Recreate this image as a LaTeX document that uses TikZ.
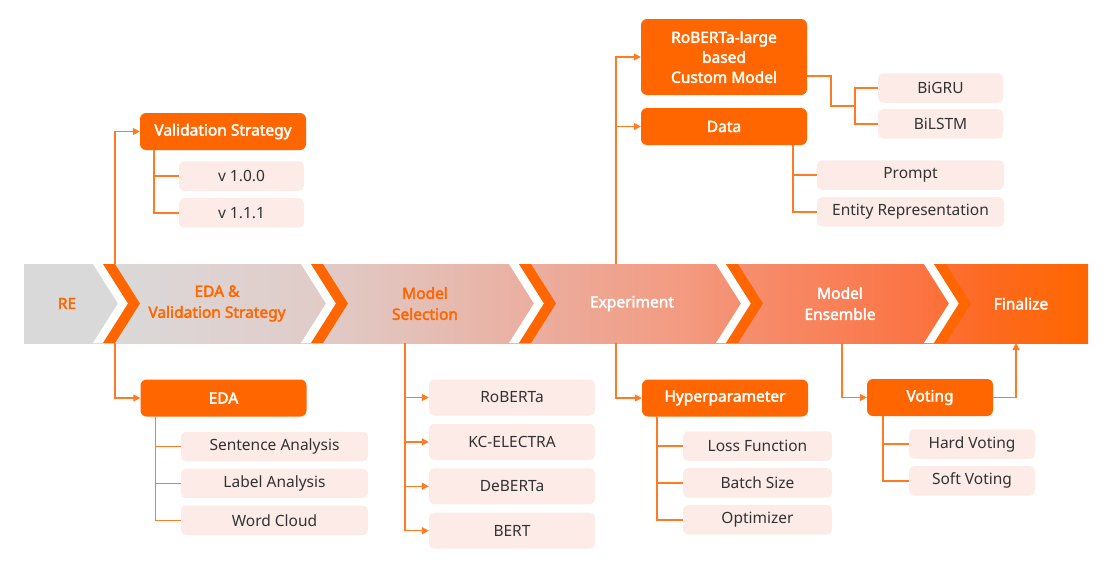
\documentclass[tikz,border=0pt]{standalone}
\usepackage{fontspec}
\setmainfont{Noto Sans}[AutoFakeBold=2.5]
\usetikzlibrary{positioning,arrows.meta}

\definecolor{MainOrange}{HTML}{FF6600}
\definecolor{LineOrange}{HTML}{FF7A22}
\definecolor{LeafFill}{HTML}{FCEBE6}
\definecolor{LeafText}{HTML}{333333}
\definecolor{BandA}{HTML}{D9D9D9}
\definecolor{BandB}{HTML}{DCD6D6}
\definecolor{BandC}{HTML}{E0CDCA}
\definecolor{BandD}{HTML}{E3C3BC}
\definecolor{BandE}{HTML}{E8B4A7}
\definecolor{BandF}{HTML}{ECAB9A}
\definecolor{BandG}{HTML}{F39A80}
\definecolor{BandH}{HTML}{F68A68}
\definecolor{BandI}{HTML}{FB7444}
\definecolor{BandJ}{HTML}{FD6A22}
\pgfdeclarehorizontalshading{bandshade}{100bp}{color(0bp)=(BandA); color(25bp)=(BandA); color(28.5bp)=(BandA);
  color(31bp)=(BandB); color(38bp)=(BandC); color(42bp)=(BandD); color(47bp)=(BandE); color(50bp)=(BandF);
  color(56bp)=(BandG); color(60bp)=(BandH); color(67bp)=(BandI); color(70bp)=(BandJ);
  color(75bp)=(MainOrange); color(100bp)=(MainOrange)}

\begin{document}
\begin{tikzpicture}[x=1pt,y=-1pt,node distance=7pt,
                    mainbox/.style={rectangle,fill=MainOrange,rounded corners=6pt,text=white,align=center,inner sep=0pt,
                                    minimum width=166pt,minimum height=37pt,font={\bfseries\fontsize{15.5}{20}\selectfont}},
                    leafbox/.style={rectangle,fill=LeafFill,rounded corners=5pt,text=LeafText,inner sep=0pt,
                                    minimum height=29.5pt,font={\fontsize{15.5}{18}\selectfont}},
                    modelbox/.style={leafbox,minimum width=166pt,minimum height=36pt},
                    stage/.style={align=center,font={\bfseries\fontsize{15.5}{21}\selectfont}},
                    branch/.style={draw=LineOrange,line width=1.5pt},
                    feed/.style={branch,-{Triangle[length=7pt,width=7pt]}}]
  \useasboundingbox (0,0) rectangle (1118,568);
  \shade[shading=bandshade] (24,264) rectangle (1088,343);
  \foreach \s in {103,311,519,726,934}{
    \fill[white] (\s-10,264) -- (\s,264) -- (\s+25,303.5) -- (\s,343) -- (\s-10,343) -- (\s+15,303.5) -- cycle;
    \fill[MainOrange] (\s,264) -- (\s+12,264) -- (\s+37,303.5) -- (\s+12,343) -- (\s,343) -- (\s+25,303.5) -- cycle;
  }
  \node[stage,text=MainOrange] (re) at (67,303.5) {RE};
  \node[stage,text=MainOrange] (eda-val) at (217,303.5) {EDA \&\\Validation Strategy};
  \node[stage,text=MainOrange] (selection) at (425,303.5) {Model\\Selection};
  \node[stage,text=white] (experiment) at (632,303.5) {Experiment};
  \node[stage,text=white] (ensemble) at (840,303.5) {Model\\Ensemble};
  \node[stage,text=white] (finalize) at (1021,303.5) {Finalize};
  \coordinate (re-top) at (115,264);
  \coordinate (re-bot) at (115,343);
  \coordinate (sel-bot) at (405,343);
  \coordinate (exp-top) at (616,264);
  \coordinate (exp-bot) at (616,343);
  \coordinate (ens-bot) at (842,343);
  \coordinate (fin-bot) at (1016,343);
  \node[mainbox] (valstrat) at (223,131.5) {Validation Strategy};
  \node[leafbox,minimum width=125pt] (v100) at (241.5,176) {v 1.0.0};
  \node[leafbox,minimum width=125pt] (v111) [below=of v100] {v 1.1.1};
  \node[mainbox] (eda) at (223.5,398) {EDA};
  \node[leafbox,minimum width=187pt] (sentence) at (274.5,446.5) {Sentence Analysis};
  \node[leafbox,minimum width=187pt] (label) [below=of sentence] {Label Analysis};
  \node[leafbox,minimum width=187pt] (wordcloud) [below=of label] {Word Cloud};
  \node[modelbox] (roberta) at (512,397.5) {RoBERTa};
  \node[modelbox] (kc-electra) [below=8pt of roberta] {KC-ELECTRA};
  \node[modelbox] (deberta) [below=8pt of kc-electra] {DeBERTa};
  \node[modelbox] (bert) [below=8pt of deberta] {BERT};
  \node[mainbox,minimum height=76pt] (custom) at (724,57) {RoBERTa-large\\based\\Custom Model};
  \node[mainbox] (data) at (724,126.5) {Data};
  \node[leafbox,minimum width=125pt] (bigru) at (940.5,88) {BiGRU};
  \node[leafbox,minimum width=125pt] (bilstm) [below=6pt of bigru] {BiLSTM};
  \node[leafbox,minimum width=187pt] (prompt) at (910.5,175) {Prompt};
  \node[leafbox,minimum width=187pt] (entity) [below=of prompt] {Entity Representation};
  \node[mainbox] (hyper) at (725,398) {Hyperparameter};
  \node[leafbox,minimum width=149pt] (loss) at (757.5,446) {Loss Function};
  \node[leafbox,minimum width=149pt] (batch) [below=of loss] {Batch Size};
  \node[leafbox,minimum width=149pt] (optimizer) [below=of batch] {Optimizer};
  \node[mainbox,minimum width=126pt] (voting) at (930,397.5) {Voting};
  \node[leafbox,minimum width=126pt] (hard) at (972,444) {Hard Voting};
  \node[leafbox,minimum width=126pt] (soft) [below=of hard] {Soft Voting};
  \draw[feed] (re-top) |- (valstrat.west);
  \draw[feed] (re-bot) |- (eda.west);
  \foreach \m in {roberta,kc-electra,deberta,bert}
    \draw[feed] (sel-bot) |- (\m.west);
  \draw[feed] (exp-top) |- (custom.west);
  \draw[feed] (exp-top) |- (data.west);
  \draw[feed] (exp-bot) |- (hyper.west);
  \draw[feed] (ens-bot) |- (voting.west);
  \draw[feed] (voting.east) -| (fin-bot);
  \draw[branch] ([xshift=14pt]valstrat.south west) |- (v100.west);
  \draw[branch] ([xshift=14pt]valstrat.south west) |- (v111.west);
  \draw[branch] ([xshift=15pt]eda.south west) |- (sentence.west);
  \draw[branch] ([xshift=15pt]eda.south west) |- (label.west);
  \draw[branch] ([xshift=15pt]eda.south west) |- (wordcloud.west);
  \draw[branch] ([yshift=-19pt]custom.east) -- ++(24,0) -- ++(0,30) -- ++(24,0);
  \draw[branch] (bigru.west) -- ++(-23,0) |- (bilstm.west);
  \draw[branch] ([xshift=-14pt]data.south east) |- (prompt.west);
  \draw[branch] ([xshift=-14pt]data.south east) |- (entity.west);
  \draw[branch] ([xshift=15pt]hyper.south west) |- (loss.west);
  \draw[branch] ([xshift=15pt]hyper.south west) |- (batch.west);
  \draw[branch] ([xshift=15pt]hyper.south west) |- (optimizer.west);
  \draw[branch] ([xshift=16pt]voting.south west) |- (hard.west);
  \draw[branch] ([xshift=16pt]voting.south west) |- (soft.west);
\end{tikzpicture}
\end{document}
